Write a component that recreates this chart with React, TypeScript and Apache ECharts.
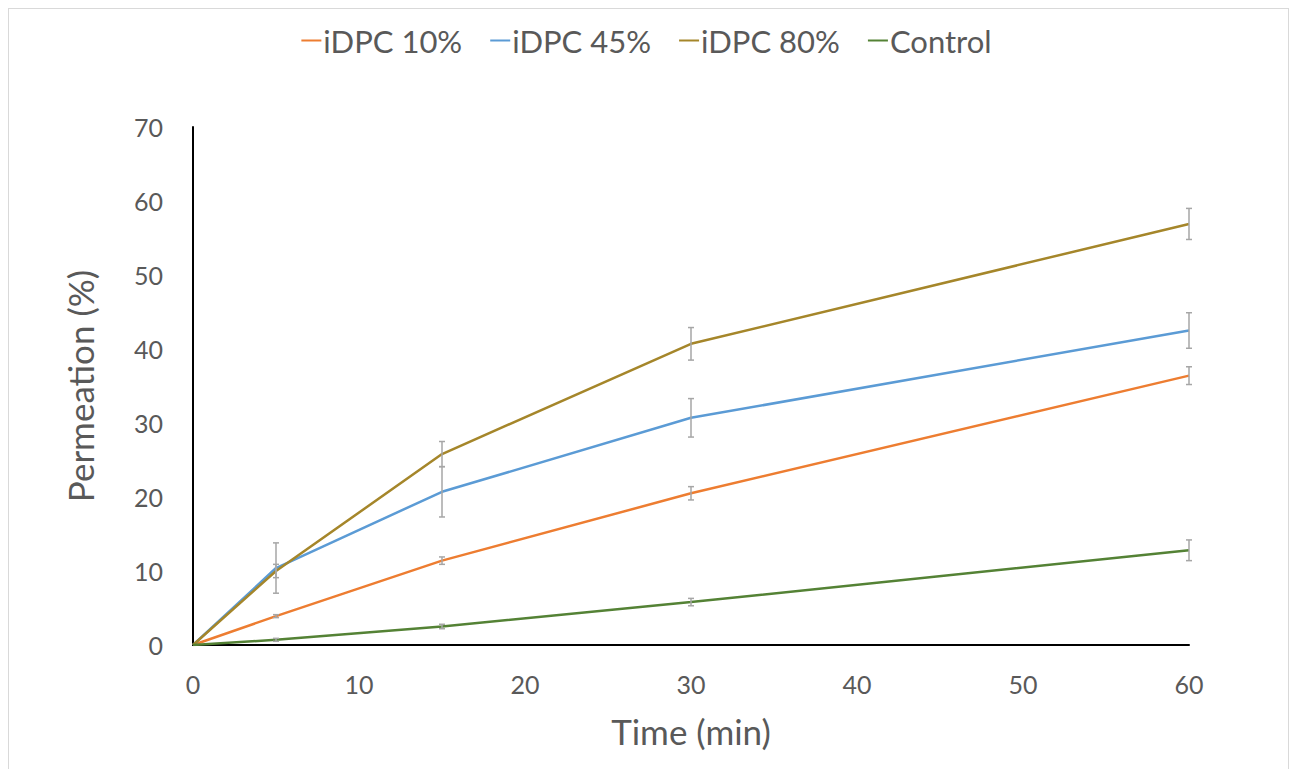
import React, { useEffect, useRef } from "react";
import * as echarts from "echarts";

const times = [0, 5, 15, 30, 60];
const seriesNames = ["iDPC 10%", "iDPC 45%", "iDPC 80%", "Control"];
const idpc10 = [0, 3.9, 11.4, 20.5, 36.4];
const idpc10Err = [0, 0.2, 0.5, 0.9, 1.2];
const idpc45 = [0, 10.4, 20.7, 30.7, 42.5];
const idpc45Err = [0, 3.4, 3.4, 2.6, 2.4];
const idpc80 = [0, 10.0, 25.8, 40.7, 56.9];
const idpc80Err = [0, 0.9, 1.7, 2.2, 2.1];
const control = [0, 0.7, 2.5, 5.8, 12.8];
const controlErr = [0, 0.2, 0.3, 0.5, 1.4];
const colors = ["#ED7D31", "#5B9BD5", "#A5862A", "#548235"];

const FONT = "Lato, 'Open Sans', sans-serif";

export default function App() {
  const ref = useRef<HTMLDivElement>(null);
  useEffect(() => {
    if (!ref.current) return;
    const chart = echarts.init(ref.current, undefined, { renderer: "svg" });
    const vals = [idpc10, idpc45, idpc80, control];
    const errs = [idpc10Err, idpc45Err, idpc80Err, controlErr];
    const lineSeries = vals.map((v, i) => ({
      name: seriesNames[i],
      type: "line",
      data: times.map((t, j) => [t, v[j]]),
      symbol: "none",
      lineStyle: { color: colors[i], width: 2.5 },
      itemStyle: { color: colors[i] },
      z: 3,
    }));
    const errData: number[][] = [];
    vals.forEach((v, i) => {
      times.forEach((t, j) => {
        if (errs[i][j] > 0) errData.push([t, v[j] - errs[i][j], v[j] + errs[i][j]]);
      });
    });
    const errSeries = {
      type: "custom",
      name: "err",
      data: errData,
      z: 4,
      renderItem: (params: any, api: any) => {
        const x = api.value(0);
        const lo = api.coord([x, api.value(1)]);
        const hi = api.coord([x, api.value(2)]);
        const w = 3;
        const style = { stroke: "#A6A6A6", lineWidth: 1.5 };
        return {
          type: "group",
          children: [
            { type: "line", shape: { x1: lo[0], y1: lo[1], x2: hi[0], y2: hi[1] }, style },
            { type: "line", shape: { x1: lo[0] - w, y1: lo[1], x2: lo[0] + w, y2: lo[1] }, style },
            { type: "line", shape: { x1: hi[0] - w, y1: hi[1], x2: hi[0] + w, y2: hi[1] }, style },
          ],
        };
      },
    };
    chart.setOption({
      animation: false,
      backgroundColor: "#ffffff",
      legend: {
        data: seriesNames.map((n, i) => ({ name: n, itemStyle: { color: colors[i] } })),
        top: 20,
        left: "center",
        icon: "rect",
        itemWidth: 20,
        itemHeight: 2,
        itemGap: 28,
        textStyle: { fontSize: 31, color: "#595959", fontFamily: FONT, padding: [0, 0, 0, -3] },
      },
      grid: { left: 193, right: 104, top: 127, bottom: 124 },
      xAxis: {
        type: "value",
        min: 0,
        max: 60,
        interval: 10,
        name: "Time (min)",
        nameLocation: "middle",
        nameGap: 68,
        nameTextStyle: { fontSize: 35, color: "#595959", fontFamily: FONT },
        axisLine: { show: true, lineStyle: { color: "#000000", width: 2 } },
        axisTick: { show: false },
        splitLine: { show: false },
        axisLabel: { fontSize: 25, color: "#595959", fontFamily: FONT, margin: 26 },
      },
      yAxis: {
        type: "value",
        min: 0,
        max: 70,
        interval: 10,
        name: "Permeation (%)",
        nameLocation: "middle",
        nameGap: 96,
        nameTextStyle: { fontSize: 35, color: "#595959", fontFamily: FONT },
        axisLine: { show: true, lineStyle: { color: "#000000", width: 2 } },
        axisTick: { show: false },
        splitLine: { show: false },
        axisLabel: { fontSize: 25, color: "#595959", fontFamily: FONT, margin: 30 },
      },
      series: [...lineSeries, errSeries],
    });
    return () => chart.dispose();
  }, []);
  return (
    <div style={{ position: "fixed", left: 0, top: 0, width: 1293, height: 769, background: "#fff", overflow: "hidden" }}>
      <div ref={ref} style={{ position: "absolute", left: 0, top: 0, width: 1293, height: 769 }} />
      <div
        style={{
          position: "absolute",
          left: 8,
          top: 8,
          width: 1279,
          height: 800,
          border: "1.5px solid #D9D9D9",
          pointerEvents: "none",
        }}
      />
    </div>
  );
}
